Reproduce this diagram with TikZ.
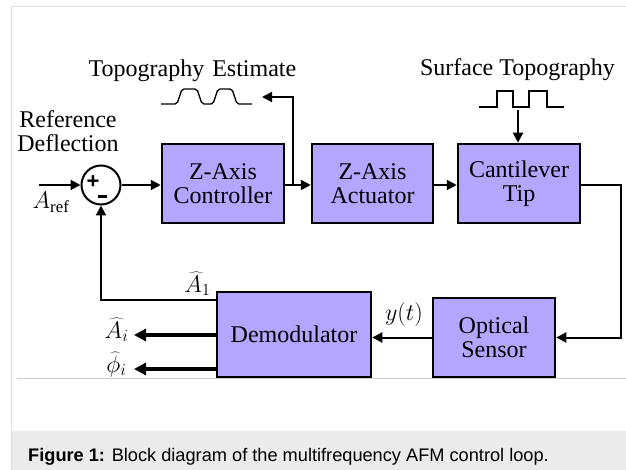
\documentclass[tikz,border=0pt]{standalone}
\usepackage{fix-cm}
\usepackage{fontspec}
\setmainfont{Liberation Serif}
\newfontfamily\capfont{Liberation Sans}
\usetikzlibrary{arrows.meta}
\definecolor{boxfill}{RGB}{180,166,255}
\definecolor{framegray}{RGB}{221,221,221}
\definecolor{rulegray}{RGB}{204,204,204}
\definecolor{capbg}{RGB}{235,235,235}
\begin{document}
\begin{tikzpicture}[x=1pt,y=-1pt,
  block/.style={draw=black, line width=2.5pt, fill=boxfill, align=center, inner sep=0pt,
    font=\fontsize{24}{24}\selectfont},
  conn/.style={line width=2pt, -{Triangle[length=10pt,width=10pt]}},
  thickarr/.style={line width=3.2pt, -{Triangle[length=12pt,width=12pt]}},
  lbl/.style={font=\fontsize{24}{24}\selectfont, inner sep=0pt},
  sign/.style={font=\capfont\bfseries\fontsize{22}{22}\selectfont, inner sep=0pt},
  wave/.style={line width=1.3pt}]
\useasboundingbox (0,0) rectangle (626,470);
\fill[white] (0,0) rectangle (626,470);
% page frame and caption
\fill[capbg] (12,431) rectangle (626,470);
\draw[framegray, line width=1pt] (11.5,470) -- (11.5,6.5) -- (626,6.5);
\draw[rulegray, line width=1pt] (17,378) -- (626,378);
\node[anchor=base west, font=\capfont\fontsize{18.2}{18.2}\selectfont, inner sep=0pt] (cap) at (28,461)
  {\textbf{Figure 1:} Block diagram of the multifrequency AFM control loop.};

% blocks
\node[block, minimum width=122pt, minimum height=79pt] (ctrl) at (223,183.5) {Z-Axis\\Controller};
\node[block, minimum width=121pt, minimum height=79pt] (act) at (372.5,183.5) {Z-Axis\\Actuator};
\node[block, minimum width=122pt, minimum height=79pt] (cant) at (519,183.5) {Cantilever\\Tip};
\node[block, minimum width=154pt, minimum height=85pt] (demod) at (294,334.5) {Demodulator};
\node[block, minimum width=122pt, minimum height=79pt] (opt) at (494,337.5) {Optical\\Sensor};

% summing junction
\node[draw, circle, line width=2pt, minimum size=39pt, inner sep=0pt] (sum) at (101,185) {};
\node[sign] (plus) at (93,182.5) {+};
\node[sign] (minus) at (102.5,196.5) {\rule{9pt}{2.4pt}};

% labels
\node[lbl, anchor=base] (ref1) at (68,128) {Reference};
\node[lbl, anchor=base] (ref2) at (68,152) {Deflection};
\node[lbl, anchor=base] (aref) at (51,209) {$A_{\mathrm{ref}}$};
\node[lbl, anchor=base] (topest) at (192.5,77) {Topography\hspace{2pt} Estimate};
\node[lbl, anchor=base] (surf) at (517.5,76) {Surface Topography};
\node[lbl] (ylab) at (404,315) {$y(t)$};
\node[lbl, anchor=base] (a1) at (197.5,292) {$\widehat{A}_1$};
\node[lbl, anchor=base] (ai) at (116.5,338) {$\widehat{A}_i$};
\node[lbl, anchor=base] (phii) at (116.5,372) {$\widehat{\phi}_i$};

% waveforms
\draw[wave, rounded corners=2pt] (161,104) -- (177,104) -- (182,89) -- (197,89) -- (202,104)
  -- (213,104) -- (218,89) -- (232,89) -- (237,104) -- (252,104);
\draw[wave] (479,107) -- (497,107) -- (497,91) -- (513,91) -- (513,107) -- (529,107)
  -- (529,91) -- (547,91) -- (547,107) -- (564,107);

% coordinates
\coordinate (in) at (39,185);
\coordinate (brx) at (293,97);
\coordinate (esttip) at (262,97);
\coordinate (stop) at (518,110);
\coordinate (rt) at (621,337.5);
\coordinate (fb) at (101,300);
\coordinate (aitip) at (134,335);
\coordinate (phitip) at (134,369);

% connectors
\draw[conn] (in) -- (sum.west);
\draw[conn] (sum.east) -- (sum.east -| ctrl.west);
\draw[conn] (sum.east -| ctrl.east) -- (sum.east -| act.west);
\draw[conn] (brx |- sum.east) -- (brx) -- (esttip);
\draw[conn] (sum.east -| act.east) -- (sum.east -| cant.west);
\draw[conn] (stop) -- (stop |- cant.north);
\draw[conn] (sum.east -| cant.east) -- (sum.east -| rt) -- (rt) -- (rt -| opt.east);
\draw[conn] (opt.west) -- (opt.west -| demod.east);
\draw[conn] (fb -| demod.west) -- (fb) -- (sum.south);
\draw[thickarr] (aitip -| demod.west) -- (aitip);
\draw[thickarr] (phitip -| demod.west) -- (phitip);
\end{tikzpicture}
\end{document}
